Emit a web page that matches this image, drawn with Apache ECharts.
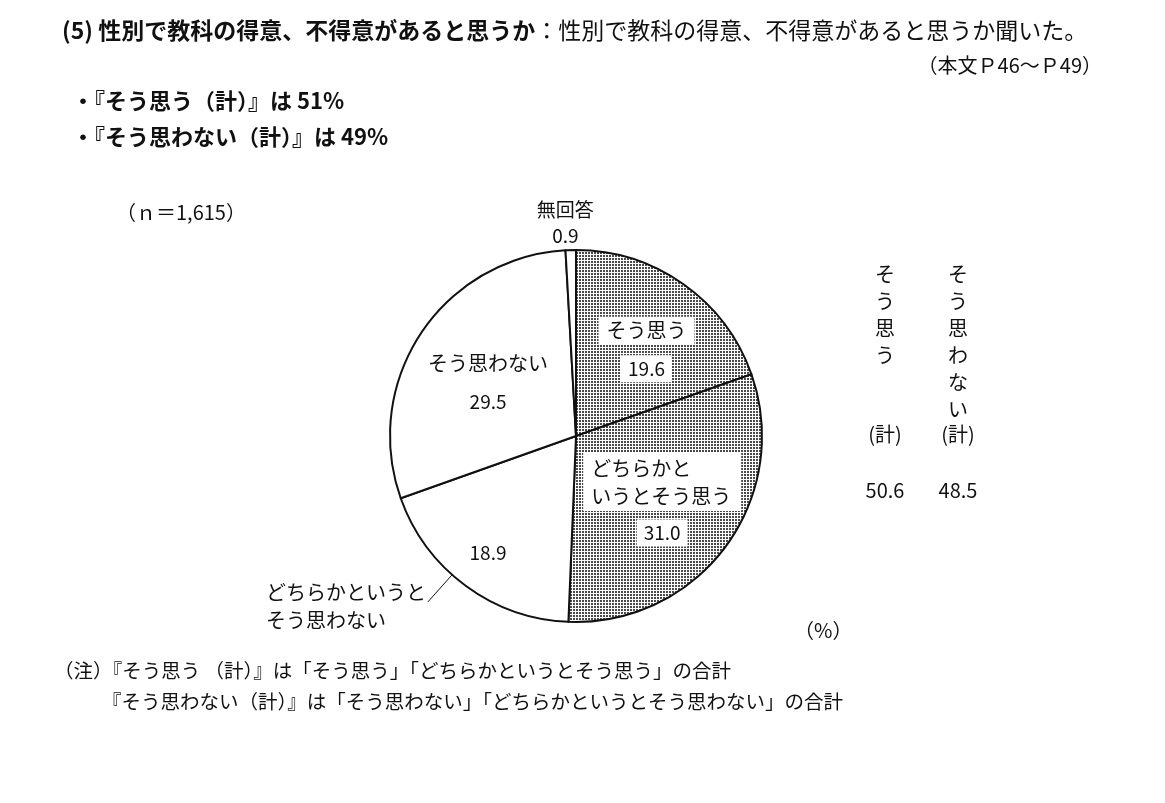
<!DOCTYPE html>
<html>
<head>
<meta charset="utf-8">
<script src="https://cdn.jsdelivr.net/npm/echarts@6/dist/echarts.min.js"></script>
<style>
html,body{margin:0;padding:0;background:#fff;}
#main{width:1165px;height:803px;}
</style>
</head>
<body>
<div id="main"></div>
<script>
//回答データ（%）
var categories = ['そう思う', 'どちらかというとそう思う', 'どちらかというとそう思わない', 'そう思わない', '無回答'];
var values = [19.6, 31.0, 18.9, 29.5, 0.9];
//ラベル表示用（改行位置）
var labelText = ['そう思う', 'どちらかと\nいうとそう思う', 'どちらかというと\nそう思わない', 'そう思わない', '無回答'];
//（計）
var totalNames = ['そう思う', 'そう思わない'];
var totalValues = [50.6, 48.5];

var FONT = '"Noto Sans CJK JP", "Noto Sans", sans-serif';
var CX = 576, CY = 436, R = 186;

//網掛けパターン
function dots() {
	var c = document.createElement('canvas');
	c.width = 3;
	c.height = 3;
	var x = c.getContext('2d');
	x.fillStyle = '#fff';
	x.fillRect(0, 0, 3, 3);
	x.fillStyle = '#4a4a4a';
	x.fillRect(0, 0, 2, 2);
	return c;
}
var pattern = { image: dots(), repeat: 'repeat' };

function fmtVal(v) {
	return v.toFixed(1);
}

var mainData = [];
for (var i = 0; i < categories.length; i++) {
	var item = {
		name: categories[i],
		value: values[i],
		itemStyle: { color: i < 2 ? pattern : '#fff' }
	};
	if (i == 4) {
		item.label = { position: 'outside', formatter: function(p) { return '{o|' + labelText[p.dataIndex] + '}\n{o|' + fmtVal(p.value) + '}'; } };
		item.labelLine = { show: false };
	}
	mainData.push(item);
}

var overData = [];
for (var j = 0; j < categories.length; j++) {
	overData.push({
		name: categories[j],
		value: values[j],
		label: { show: j == 2 },
		labelLine: { show: j == 2 }
	});
}

//ラベル位置の微調整
var nudge = [[15, -8], [9, 8], [-31, 40], [-8, 0]];

//縦書き
function vert(s) {
	return s.split('').join('\n');
}

var graphics = [
	{
		type: 'text', left: 62, top: 19,
		style: {
			text: '{b|(5) 性別で教科の得意、不得意があると思うか}{r|：性別で教科の得意、不得意があると思うか聞いた。}',
			rich: {
				b: { font: 'bold 23px ' + FONT, fill: '#111' },
				r: { font: '23px ' + FONT, fill: '#111' }
			}
		}
	},
	{ type: 'text', right: 63, top: 55, style: { text: '（本文Ｐ46～Ｐ49）', font: '20px ' + FONT, fill: '#111' } },
	{ type: 'text', left: 72, top: 90, style: { text: '・『そう思う（計）』は 51%', font: 'bold 22px ' + FONT, fill: '#111' } },
	{ type: 'text', left: 72, top: 126, style: { text: '・『そう思わない（計）』は 49%', font: 'bold 22px ' + FONT, fill: '#111' } },
	{ type: 'text', left: 116, top: 202, style: { text: '（ｎ＝1,615）', font: '20px ' + FONT, fill: '#111' } },
	{ type: 'text', left: 794, top: 620, style: { text: '（%）', font: '20px ' + FONT, fill: '#111' } },
	{ type: 'text', left: 54, top: 661, style: { text: '（注）『そう思う （計）』は「そう思う」「どちらかというとそう思う」の合計', font: '19.5px ' + FONT, fill: '#111' } },
	{ type: 'text', left: 102, top: 692, style: { text: '『そう思わない（計）』は「そう思わない」「どちらかというとそう思わない」の合計', font: '19.5px ' + FONT, fill: '#111' } }
];
var colX = [885, 958];
for (var k = 0; k < totalNames.length; k++) {
	graphics.push({ type: 'text', x: colX[k], y: 261, style: { text: vert(totalNames[k]), font: '20px ' + FONT, lineHeight: 27, fill: '#111', align: 'center' } });
	graphics.push({ type: 'text', x: colX[k], y: 424, style: { text: '(計)', font: '20px ' + FONT, fill: '#111', align: 'center' } });
	graphics.push({ type: 'text', x: colX[k], y: 480, style: { text: fmtVal(totalValues[k]), font: '20px ' + FONT, fill: '#111', align: 'center' } });
}

var option = {
	animation: false,
	graphic: graphics,
	series: [
		{
			type: 'pie',
			center: [CX, CY],
			radius: R,
			startAngle: 90,
			clockwise: true,
			silent: true,
			itemStyle: { borderColor: '#111', borderWidth: 2 },
			label: {
				show: true,
				position: 'inside',
				fontFamily: FONT,
				color: '#111',
				formatter: function(p) {
					var i = p.dataIndex;
					if (i == 2) {
						return '{v|' + fmtVal(p.value) + '}';
					}
					var lines = labelText[i].split('\n');
					var st = i == 1 ? 'w' : 'n';
					var s = [];
					for (var m = 0; m < lines.length; m++) {
						s.push('{' + st + '|' + lines[m] + '}');
					}
					return s.join('\n') + '\n{g|}\n{v|' + fmtVal(p.value) + '}';
				},
				rich: {
					n: { fontSize: 20, fontFamily: FONT, color: '#111', backgroundColor: '#fff', padding: [4, 8], lineHeight: 30 },
					w: { fontSize: 20, fontFamily: FONT, color: '#111', backgroundColor: '#fff', padding: [5, 8], lineHeight: 28, width: 142, align: 'left' },
					v: { fontSize: 19, fontFamily: FONT, color: '#111', backgroundColor: '#fff', padding: [4, 7], lineHeight: 30 },
					g: { lineHeight: 8 },
					o: { fontSize: 19, fontFamily: FONT, color: '#111', lineHeight: 26 }
				}
			},
			labelLine: { show: false, length: 15, length2: 0 },
			labelLayout: function(p) {
				if (p.dataIndex == 4) {
					return { align: 'center', dy: -12 };
				}
				var d = nudge[p.dataIndex];
				return { dx: d[0], dy: d[1] };
			},
			data: mainData
		},
		{
			type: 'pie',
			center: [CX, CY],
			radius: R,
			startAngle: 90,
			clockwise: true,
			silent: true,
			z: 3,
			itemStyle: { color: 'rgba(0,0,0,0)', borderWidth: 0 },
			label: {
				position: 'outside',
				formatter: function(p) {
					var lines = labelText[p.dataIndex].split('\n');
					return '{a|' + lines.join('}\n{a|') + '}';
				},
				rich: {
					a: { fontSize: 20, fontFamily: FONT, color: '#111', lineHeight: 28, width: 165, align: 'left' }
				}
			},
			labelLine: { length: 40, length2: 0, lineStyle: { color: '#111', width: 1 } },
			labelLayout: function(p) {
				var dx = -6, dy = -12;
				var r = p.labelRect;
				//引出線：ラベル1行目の右端から円周へまっすぐ
				var end = [r.x + r.width + dx - 3, r.y + dy + 20];
				var vx = end[0] - CX, vy = end[1] - CY;
				var len = Math.sqrt(vx * vx + vy * vy);
				var start = [CX + vx / len * R, CY + vy / len * R];
				return { dx: dx, dy: dy, labelLinePoints: [start, end] };
			},
			data: overData
		}
	]
};

var myChart = echarts.init(document.getElementById('main'));
myChart.setOption(option);
</script>
</body>
</html>
